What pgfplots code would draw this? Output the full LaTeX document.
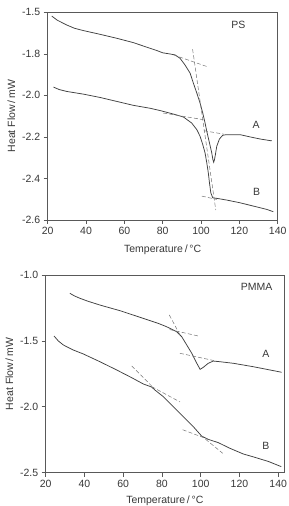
\documentclass[border=0pt]{standalone}
\usepackage{pgfplots}
\pgfplotsset{compat=1.18}
\usepackage{fontspec}
\setmainfont{Liberation Sans}

\definecolor{curve}{gray}{0.25}
\definecolor{tang}{gray}{0.45}
\definecolor{frame}{gray}{0.35}
\definecolor{txt}{gray}{0.22}

\pgfplotsset{
  dsc/.style={
    scale only axis,
    axis line style={frame, line width=0.6pt},
    tick style={frame, line width=0.6pt},
    tick align=outside,
    xtick pos=bottom, ytick pos=left,
    major tick length=4pt,
    font=\fontsize{10.5}{12}\selectfont,
    every tick label/.append style={txt},
    label style={txt},
    /pgf/number format/assume math mode=true,
    xtick={20,40,...,140},
    xmin=20,
    xlabel={Temperature\,/\,°C},
    ylabel={Heat Flow\,/\,mW},
    clip=false,
  },
  trace/.style={curve, line width=0.75pt, no markers},
  tangent/.style={tang, line width=0.5pt, dash pattern=on 4pt off 2.2pt, no markers},
}

\begin{document}
\begin{tikzpicture}
\path[use as bounding box] (0,0) rectangle (289pt,506pt);

% ---------- PS ----------
\begin{axis}[dsc,
  at={(47.7pt,286pt)}, anchor=south west,
  width=230pt, height=207.7pt,
  xlabel style={yshift=-3pt},
  xmax=140, ymin=-2.6, ymax=-1.6,
  ytick={-2.6,-2.4,-2.2,-2.0,-1.8,-1.6},
  yticklabels={-2.6,-2.4,-2.2,-2.0,-1.8,-1.5},
]
\addplot[trace] coordinates {
(22.1,-1.618)(25,-1.638)(29.9,-1.661)(34,-1.677)(38.6,-1.688)(47.3,-1.706)
(56,-1.725)(64.7,-1.746)(71.7,-1.768)(76.9,-1.784)(80,-1.795)(84,-1.801)
(86.4,-1.805)(89,-1.821)(91.6,-1.853)(94.3,-1.893)(96,-1.941)(97.8,-1.989)
(99.5,-2.037)(100.9,-2.085)(102.1,-2.133)(103,-2.173)(104.4,-2.229)
(105.6,-2.277)(106.2,-2.31)(106.6,-2.322)(107.0,-2.31)(107.5,-2.285)
(108.2,-2.245)(109.6,-2.21)(111.3,-2.192)(113.4,-2.189)(120.3,-2.189)
(125.6,-2.2)(130.8,-2.21)(136.9,-2.219)};
\addplot[trace] coordinates {
(23,-1.96)(26,-1.972)(29.9,-1.981)(38.6,-1.994)(47.3,-2.01)(56,-2.029)
(64.7,-2.048)(73.4,-2.062)(78.6,-2.073)(85.6,-2.09)(90.8,-2.104)(95.1,-2.133)
(97.8,-2.165)(99.5,-2.197)(100.9,-2.237)(102.1,-2.277)(103,-2.325)
(103.8,-2.373)(104.4,-2.421)(105.1,-2.469)(106.1,-2.493)(109,-2.497)
(113.4,-2.504)(120.3,-2.517)(127.3,-2.533)(134.3,-2.549)(137.7,-2.56)};
% construction lines
\addplot[tangent] coordinates {(85.6,-1.805)(103,-1.861)};
\addplot[tangent] coordinates {(95.6,-1.778)(107.7,-2.552)};
\addplot[tangent] coordinates {(101.5,-2.17)(112,-2.187)};
\addplot[tangent] coordinates {(80.3,-2.085)(101.2,-2.117)};
\addplot[tangent] coordinates {(100.4,-2.485)(108.2,-2.501)};
\node[txt] at (axis cs:119.5,-1.661) {PS};
\node[txt] at (axis cs:128.7,-2.141) {A};
\node[txt] at (axis cs:129,-2.466) {B};
\end{axis}

% ---------- PMMA ----------
\begin{axis}[dsc,
  at={(45.7pt,33.3pt)}, anchor=south west,
  width=238.3pt, height=197.7pt,
  xlabel style={yshift=-1pt},
  xmax=143, ymin=-2.5, ymax=-1.0,
  ytick={-2.5,-2.0,-1.5,-1.0},
  yticklabels={-2.5,-2.0,-1.5,-1.0},
]
\addplot[trace] coordinates {
(32.5,-1.139)(35,-1.16)(37.7,-1.177)(42,-1.2)(48,-1.228)(58.4,-1.271)
(68.7,-1.321)(73.8,-1.346)(78.1,-1.367)(82,-1.39)(84.2,-1.405)(87.6,-1.43)
(90.2,-1.468)(92.8,-1.531)(95.4,-1.594)(98,-1.67)(99.7,-1.716)(101.4,-1.70)
(103.9,-1.67)(106.5,-1.653)(110,-1.658)(116.9,-1.67)(127.2,-1.696)
(141.8,-1.738)};
\addplot[trace] coordinates {
(24.3,-1.463)(26.5,-1.5)(29.1,-1.531)(34.2,-1.569)(39.4,-1.599)(48,-1.658)
(56.7,-1.721)(64.5,-1.78)(70.4,-1.827)(74.7,-1.85)(76.4,-1.873)(80.7,-1.923)
(85.9,-1.999)(91,-2.075)(96.2,-2.151)(100.5,-2.222)(103.9,-2.247)
(109.1,-2.272)(115.1,-2.315)(122,-2.358)(127.2,-2.38)(135,-2.415)
(141.6,-2.454)};
% construction lines
\addplot[tangent] coordinates {(84,-1.414)(98.8,-1.463)};
\addplot[tangent] coordinates {(83.8,-1.303)(89.5,-1.46)};
\addplot[tangent] coordinates {(89.3,-1.594)(108,-1.653)};
\addplot[tangent] coordinates {(64.4,-1.69)(75,-1.847)};
\addplot[tangent] coordinates {(74.7,-1.847)(89.3,-1.963)};
\addplot[tangent] coordinates {(90.7,-2.174)(103.9,-2.247)};
\addplot[tangent] coordinates {(100,-2.216)(111.4,-2.353)};
\node[txt] at (axis cs:128.9,-1.089) {PMMA};
\node[txt] at (axis cs:133.6,-1.602) {A};
\node[txt] at (axis cs:133.6,-2.295) {B};
\end{axis}
\end{tikzpicture}
\end{document}
